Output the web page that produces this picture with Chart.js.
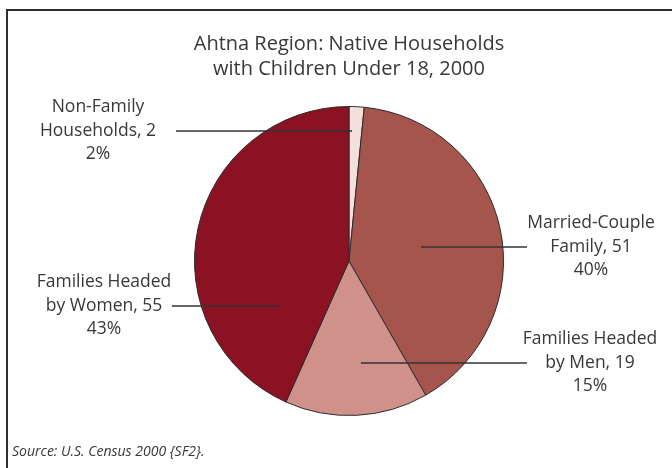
<!DOCTYPE html>
<html>
<head>
<meta charset="utf-8">
<script src="https://cdn.jsdelivr.net/npm/chart.js@4/dist/chart.umd.min.js"></script>
<style>
  html, body { margin: 0; padding: 0; background: #fff; }
  #wrap { width: 672px; height: 468px; position: relative; }
</style>
</head>
<body>
<div id="wrap"><canvas id="myChart"></canvas></div>
<script>
// household types, clockwise from 12 o'clock
const categories = [
    ["Non-Family", "Households"],
    ["Married-Couple", "Family"],
    ["Families Headed", "by Men"],
    ["Families Headed", "by Women"]
]
const households = [2, 51, 19, 55]
const sliceColors = ["#f3dfdb", "#a6554d", "#d0918b", "#8a1222"]

const titleLines = ["Ahtna Region: Native Households", "with Children Under 18, 2000"]
const sourceNote = "Source: U.S. Census 2000 {SF2}."

// label placement, offsets from the pie centre:
// text centre x, middle line y, leader start x, leader end x
const labelSpots = [
    {tx: -251, ty: -130, x1: -173, x2: 3},
    {tx: 242, ty: -14, x1: 72, x2: 178},
    {tx: 241, ty: 102, x1: 12, x2: 178},
    {tx: -245, ty: 45, x1: -177, x2: -70}
]

const FONT = "'Open Sans', 'Noto Sans', sans-serif"
const TEXT = "#383838"

const total = households.reduce((a, b) => a + b, 0)

const decorations = {
    id: "decorations",
    afterDraw(chart) {
        const ctx = chart.ctx
        const arcs = chart.getDatasetMeta(0).data
        const cx = arcs[0].x, cy = arcs[0].y
        ctx.save()

        // outer frame (runs off the right and bottom edges)
        ctx.strokeStyle = "#2e2e2e"
        ctx.lineWidth = 2
        ctx.strokeRect(7, 10, 720, 520)

        // title
        ctx.fillStyle = TEXT
        ctx.textAlign = "center"
        ctx.textBaseline = "middle"
        ctx.font = "20px " + FONT
        titleLines.forEach((t, i) => ctx.fillText(t, 349, 44 + i * 25))

        // source
        ctx.textAlign = "left"
        ctx.font = "italic 14px " + FONT
        ctx.fillText(sourceNote, 12, 452)

        // leaders and labels
        ctx.font = "17.5px " + FONT
        ctx.textAlign = "center"
        categories.forEach((name, i) => {
            const s = labelSpots[i]
            const y = cy + s.ty
            ctx.strokeStyle = "#333"
            ctx.lineWidth = 1.5
            ctx.beginPath()
            ctx.moveTo(cx + s.x1, y)
            ctx.lineTo(cx + s.x2, y)
            ctx.stroke()

            const pct = Math.round(households[i] / total * 100) + "%"
            const lines = [name[0], name[1] + ", " + households[i], pct]
            ctx.fillStyle = TEXT
            lines.forEach((t, j) => ctx.fillText(t, cx + s.tx, y + (j - 1) * 23.5))
        })
        ctx.restore()
    }
}

new Chart(document.getElementById("myChart"), {
    type: "pie",
    data: {
        labels: categories.map(c => c.join(" ")),
        datasets: [{
            data: households,
            backgroundColor: sliceColors,
            borderColor: "#2b2b2b",
            borderWidth: 1
        }]
    },
    options: {
        responsive: true,
        maintainAspectRatio: false,
        animation: false,
        rotation: 0,
        layout: {
            padding: {top: 106, bottom: 52, left: 26, right: 0}
        },
        plugins: {
            legend: {display: false},
            tooltip: {enabled: false},
            title: {display: false}
        }
    },
    plugins: [decorations]
})
</script>
</body>
</html>
